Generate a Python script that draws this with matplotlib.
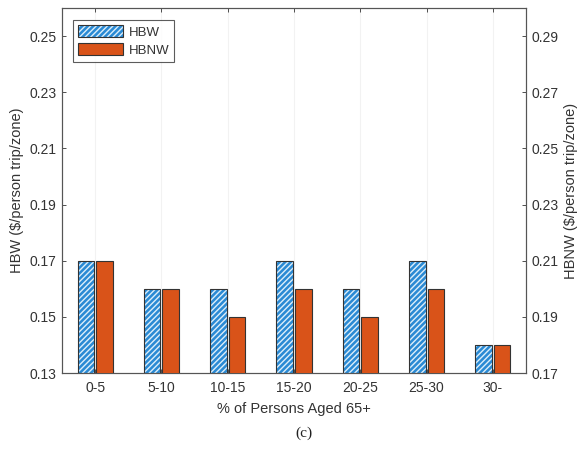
import matplotlib
matplotlib.use("Agg")
import matplotlib.pyplot as plt
import numpy as np
from matplotlib.patches import Patch
from matplotlib.legend_handler import HandlerTuple

plt.rcParams['font.family'] = ['Liberation Sans', 'DejaVu Sans']

categories = ['0-5', '5-10', '10-15', '15-20', '20-25', '25-30', '30-']
hbw = [0.17, 0.16, 0.16, 0.17, 0.16, 0.17, 0.14]
hbnw = [0.21, 0.20, 0.19, 0.20, 0.19, 0.20, 0.18]
left_ticks = [0.13, 0.15, 0.17, 0.19, 0.21, 0.23, 0.25]
right_ticks = [0.17, 0.19, 0.21, 0.23, 0.25, 0.27, 0.29]

blue = '#2a8ad4'
orange = '#d95319'
txt = '#333333'
plt.rcParams['hatch.linewidth'] = 1.0

fig = plt.figure(figsize=(5.86, 4.57), dpi=100)
ax = fig.add_axes([0.1058, 0.1838, 0.7918, 0.7987])
ax2 = ax.twinx()

x = np.arange(1, len(categories) + 1)
w = 0.25
off = 0.14
ax.bar(x - off, hbw, width=w, color=blue, edgecolor='#dceefa', hatch='//////', linewidth=0, zorder=2)
ax.bar(x - off, hbw, width=w, fill=False, edgecolor='#333333', linewidth=0.8, zorder=3)
ax2.bar(x + off, hbnw, width=w, color=orange, edgecolor='#333333', linewidth=0.8, zorder=3)

ax.set_xlim(0.5, 7.5)
ax.set_ylim(0.13, 0.26)
ax2.set_ylim(0.17, 0.30)
ax.set_yticks(left_ticks)
ax.set_yticklabels([f'{v:.2f}' for v in left_ticks])
ax2.set_yticks(right_ticks)
ax2.set_yticklabels([f'{v:.2f}' for v in right_ticks])
ax.set_xticks(x)
ax.set_xticklabels(categories)

for a in (ax, ax2):
    for s in a.spines.values():
        s.set_color('#555555')
        s.set_linewidth(0.8)
    a.tick_params(colors=txt, labelsize=10, direction='in', length=3, width=0.6)
ax.tick_params(axis='x', top=True, pad=6)
ax.tick_params(axis='y', pad=4)
ax2.tick_params(axis='y', pad=4)

ax.grid(axis='x', color='#f2f2f2', linewidth=0.8, zorder=0)
ax.set_axisbelow(True)

ax.set_xlabel('% of Persons Aged 65+', fontsize=10.5, color=txt, labelpad=5)
ax.set_ylabel('HBW ($/person trip/zone)', fontsize=10.5, color=txt, labelpad=4)
ax2.set_ylabel('HBNW ($/person trip/zone)', fontsize=10.5, color=txt, labelpad=4)

h1 = (Patch(facecolor=blue, edgecolor='#dceefa', hatch='//////', linewidth=0),
      Patch(fill=False, edgecolor='#333333', linewidth=0.8))
h2 = Patch(facecolor=orange, edgecolor='#333333', linewidth=0.8)
leg = ax2.legend([h1, h2], ['HBW', 'HBNW'], handler_map={tuple: HandlerTuple(ndivide=1, pad=0)},
                 loc='upper left', bbox_to_anchor=(0.024, 0.967), fontsize=9.5, frameon=True,
                 fancybox=False, edgecolor='#333333', handlelength=3.4, handleheight=1.0,
                 borderpad=0.4, labelspacing=0.35, handletextpad=0.4, borderaxespad=0)
leg.get_frame().set_linewidth(0.8)
for t in leg.get_texts():
    t.set_color(txt)

fig.text(0.519, 0.052, '(c)', fontsize=11, family='Liberation Serif', ha='center', va='center', color='#222222')

fig.savefig('out.png', dpi=100)
